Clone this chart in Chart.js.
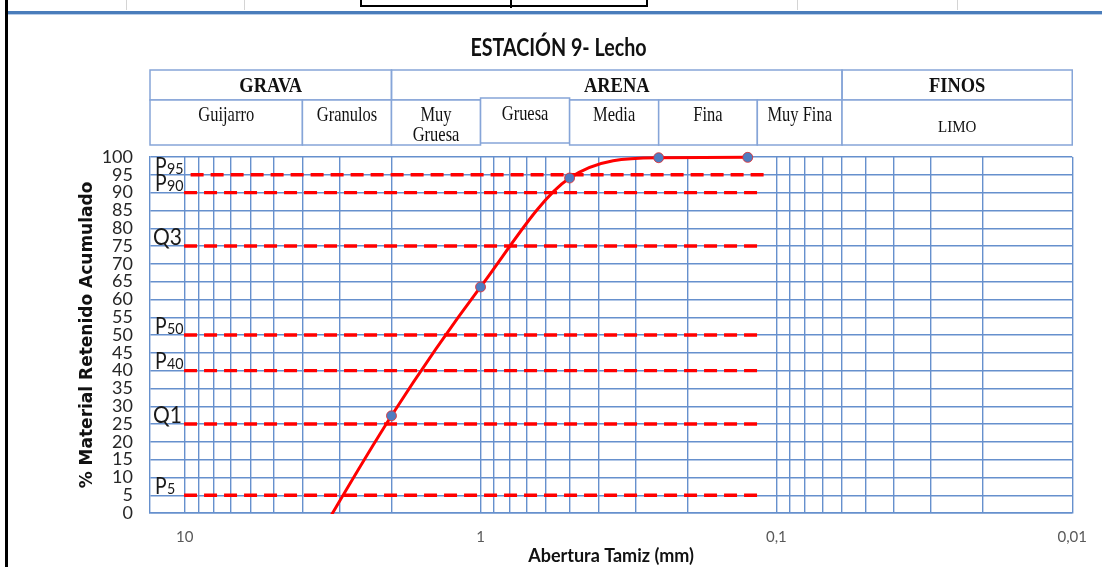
<!DOCTYPE html>
<html>
<head>
<meta charset="utf-8">
<script src="https://cdn.jsdelivr.net/npm/chart.js@4.4.1/dist/chart.umd.min.js"></script>
<style>
  html, body { margin: 0; padding: 0; background: #fff; }
  #wrap { position: relative; width: 1102px; height: 567px; overflow: hidden; background: #fff; }
  #grafico { position: absolute; left: 0; top: 0; }
  .hoja { position: absolute; }
</style>
</head>
<body>
<div id="wrap">
  <!-- worksheet frame around the chart -->
  <div class="hoja" style="left:126px;top:0;width:1px;height:10px;background:#d4d4d4"></div>
  <div class="hoja" style="left:244px;top:0;width:1px;height:10px;background:#d4d4d4"></div>
  <div class="hoja" style="left:797px;top:0;width:1px;height:10px;background:#d4d4d4"></div>
  <div class="hoja" style="left:957px;top:0;width:1px;height:10px;background:#d4d4d4"></div>
  <div class="hoja" style="left:360px;top:-2px;width:284px;height:7px;border:2px solid #000;border-top:none"></div>
  <div class="hoja" style="left:510px;top:0;width:2px;height:8px;background:#000"></div>
  <div class="hoja" style="left:8px;top:11px;width:1094px;height:3px;background:#4a7dbb"></div>
  <div class="hoja" style="left:8px;top:14px;width:1094px;height:1px;background:#b9cde8"></div>
  <div class="hoja" style="left:5px;top:0;width:3px;height:567px;background:#000"></div>
  <canvas id="grafico" width="1102" height="567"></canvas>
</div>
<script>
// Sieve openings (mm) and cumulative retained material (%)
const aberturas = [4.75, 2, 1, 0.5, 0.25, 0.125];
const retenido = [-25, 27.3, 63.5, 94.1, 99.8, 99.9];

// Characteristic percentiles and the span of their reference lines (mm)
const percentilNombres = ['P95', 'P90', 'Q3', 'P50', 'P40', 'Q1', 'P5'];
const percentilNiveles = [95, 90, 75, 50, 40, 25, 5];
const percentilDesde = [9.55, 10.05, 10.05, 10.05, 10.05, 10.05, 10.05];
const percentilHasta = [0.108, 0.1143, 0.1143, 0.1143, 0.1143, 0.1143, 0.1143];

// Axis labels
const xTickValores = [10, 1, 0.1, 0.01];
const xTickTextos = ['10', '1', '0,1', '0,01'];
const xLimites = [0.01, 13.1];

// Grain-size classes (mm limits)
const grupos = ['GRAVA', 'ARENA', 'FINOS'];
const grupoLimites = [[13.1, 2], [2, 0.06], [0.06, 0.01]];
const clases = ['Guijarro', 'Granulos', 'Muy\nGruesa', 'Gruesa', 'Media', 'Fina', 'Muy Fina', 'LIMO'];
const claseLimites = [13.1, 4, 2, 1, 0.5, 0.25, 0.116, 0.06, 0.01];

// Log-scale grid: every integer multiple inside each decade
const xGrid = [];
for (let e = 2; e >= -2; e--) {
  for (let m = 9; m >= 1; m--) {
    const v = +(m * Math.pow(10, e - 1)).toPrecision(3);
    if (v <= xLimites[1] && v >= xLimites[0]) xGrid.push(v);
  }
}
const xGridUnicos = [...new Set(xGrid)].sort((a, b) => b - a);

const AZUL_REJILLA = '#6690cd';
const AZUL_TABLA = '#86a5d8';
const ROJO = '#ff0000';

function textoEscalado(ctx, txt, x, y, sx, sy, align) {
  ctx.save();
  ctx.translate(x, y);
  ctx.scale(sx, sy);
  ctx.textAlign = align;
  ctx.fillText(txt, 0, 0);
  ctx.restore();
}

// Title, classification table and percentile labels
const decoracion = {
  id: 'decoracion',
  afterDraw(chart) {
    const { ctx, scales: { x, y } } = chart;
    ctx.save();
    ctx.textBaseline = 'alphabetic';
    ctx.fillStyle = '#111';

    // title
    ctx.font = 'bold 24px Lato';
    textoEscalado(ctx, 'ESTACIÓN 9- Lecho', 558.5, 55.5, 0.82, 1.02, 'center');

    // table
    const top = 70, mid = 100, bot = 145;
    ctx.strokeStyle = AZUL_TABLA;
    ctx.lineWidth = 1.5;
    grupos.forEach((g, i) => {
      const x0 = x.getPixelForValue(grupoLimites[i][0]);
      const x1 = x.getPixelForValue(grupoLimites[i][1]);
      ctx.strokeRect(x0, top, x1 - x0, mid - top);
      ctx.font = 'bold 19px "Liberation Serif"';
      textoEscalado(ctx, g, (x0 + x1) / 2, 92.3, 0.97, 1.12, 'center');
    });
    clases.forEach((c, i) => {
      const x0 = x.getPixelForValue(claseLimites[i]);
      const x1 = x.getPixelForValue(claseLimites[i + 1]);
      let t0 = mid, t1 = bot;
      if (c === 'Gruesa') { t0 -= 2; t1 -= 2; }
      ctx.fillStyle = '#fff';
      ctx.fillRect(x0, t0, x1 - x0, t1 - t0);
      ctx.strokeRect(x0, t0, x1 - x0, t1 - t0);
      ctx.fillStyle = '#111';
      const cx = (x0 + x1) / 2;
      if (c === 'LIMO') {
        ctx.font = '15px "Liberation Serif"';
        textoEscalado(ctx, c, cx, 131.5, 1, 1.12, 'center');
      } else {
        ctx.font = '17px "Liberation Serif"';
        const lineas = c.split('\n');
        const base = c === 'Gruesa' ? 120 : 121;
        lineas.forEach((l, k) => textoEscalado(ctx, l, cx, base + k * 20, 0.97, 1.18, 'center'));
      }
    });

    // percentile labels
    ctx.fillStyle = '#1a1a1a';
    percentilNombres.forEach((n, i) => {
      const yp = y.getPixelForValue(percentilNiveles[i]) - 1.2;
      const x0 = 155;
      if (n[0] === 'P') {
        ctx.font = '21px Lato';
        textoEscalado(ctx, 'P', x0, yp, 0.92, 1.12, 'left');
        const w = ctx.measureText('P').width * 0.92;
        ctx.font = '15px Lato';
        textoEscalado(ctx, n.slice(1), x0 + w + 0.5, yp, 0.95, 1.08, 'left');
      } else {
        ctx.font = '21px Lato';
        textoEscalado(ctx, n, x0 - 2, yp, 1.0, 1.1, 'left');
      }
    });
    ctx.restore();
  }
};

const curva = aberturas.map((a, i) => ({ x: a, y: retenido[i] }));
const lineasPercentil = percentilNiveles.map((p, i) => ({
  data: [{ x: percentilDesde[i], y: p }, { x: percentilHasta[i], y: p }],
  borderColor: ROJO,
  borderWidth: 3.4,
  borderDash: [13, 7],
  pointRadius: 0,
  tension: 0,
  fill: false
}));

new Chart(document.getElementById('grafico'), {
  type: 'line',
  data: {
    datasets: [
      {
        label: 'Curva granulométrica',
        data: curva,
        borderColor: ROJO,
        borderWidth: 3,
        cubicInterpolationMode: 'monotone',
        clip: { left: 6, top: 8, right: 6, bottom: 1 },
        pointRadius: c => (c.raw && c.raw.y < 0 ? 0 : 5),
        pointBackgroundColor: '#4f7cc0',
        pointBorderColor: 'rgba(230,40,40,0.8)',
        pointBorderWidth: 1,
        fill: false
      },
      ...lineasPercentil
    ]
  },
  options: {
    responsive: false,
    animation: false,
    events: [],
    devicePixelRatio: 1,
    layout: { padding: { top: 157, right: 27, bottom: 0, left: 0 } },
    plugins: { legend: { display: false }, tooltip: { enabled: false }, title: { display: false } },
    scales: {
      x: {
        type: 'logarithmic',
        reverse: true,
        min: xLimites[0],
        max: xLimites[1],
        afterBuildTicks: s => { s.ticks = xGridUnicos.map(v => ({ value: v })); },
        afterFit: s => { s.height = 54; },
        grid: { color: AZUL_REJILLA, lineWidth: 1.4, drawTicks: false },
        border: { color: AZUL_REJILLA, width: 1.4 },
        ticks: {
          autoSkip: false,
          maxRotation: 0,
          padding: 15,
          color: '#595959',
          font: { family: 'Lato', size: 15 },
          callback: v => {
            const k = xTickValores.findIndex(t => Math.abs(t - v) < 1e-9);
            return k >= 0 ? xTickTextos[k] : '';
          }
        },
        title: {
          display: true,
          text: 'Abertura Tamiz (mm)',
          color: '#111',
          font: { family: 'Lato', size: 18, weight: 'bold', lineHeight: 1.2 },
          padding: { top: 0, bottom: 0 }
        }
      },
      y: {
        min: 0,
        max: 100,
        afterFit: s => { s.width = 150; },
        grid: { color: AZUL_REJILLA, lineWidth: 1.4, drawTicks: false },
        border: { color: AZUL_REJILLA, width: 1.4 },
        ticks: {
          stepSize: 5,
          autoSkip: false,
          padding: 17,
          color: '#262626',
          font: { family: 'Lato', size: 18 }
        },
        title: {
          display: true,
          text: '% Material Retenido Acumulado',
          color: '#111',
          font: { family: 'DejaVu Sans', size: 17, weight: 'bold', lineHeight: 1.2 },
          padding: { top: 77, bottom: 0 }
        }
      }
    }
  },
  plugins: [decoracion]
});
</script>
</body>
</html>
